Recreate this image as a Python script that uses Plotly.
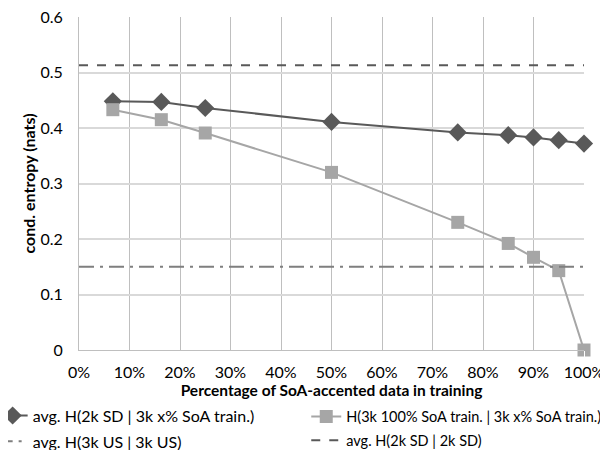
import plotly.graph_objects as go

pct = [6.7, 16.3, 25, 50, 75, 85, 90, 95, 100]
h_sd = [0.448, 0.447, 0.436, 0.411, 0.392, 0.387, 0.383, 0.378, 0.372]
h_soa = [0.433, 0.415, 0.391, 0.320, 0.230, 0.192, 0.167, 0.143, 0.0]
span = [0, 100]
h_us = 0.150
h_sd_sd = 0.513

names = ["avg. H(2k SD | 3k x% SoA train.)",
         "H(3k 100% SoA train. | 3k x% SoA train.)",
         "avg. H(3k US | 3k US)",
         "avg. H(2k SD | 2k SD)"]

FONT = "Lato"
fig = go.Figure()
fig.add_trace(go.Scatter(x=pct, y=h_sd, name=names[0], mode="lines+markers",
                         line=dict(color="#595959", width=2),
                         marker=dict(symbol="diamond", size=14, color="#595959"),
                         cliponaxis=False, legend="legend", legendgroup="a"))
fig.add_trace(go.Scatter(x=pct, y=h_soa, name=names[1], mode="lines+markers",
                         line=dict(color="#a6a6a6", width=2),
                         marker=dict(symbol="square", size=13, color="#a6a6a6"),
                         cliponaxis=False, legend="legend2", legendgroup="b"))
fig.add_trace(go.Scatter(x=span, y=[h_us] * 2, name=names[2], mode="lines",
                         line=dict(color="#7f7f7f", width=2, dash="longdashdot"),
                         legend="legend", legendgroup="c"))
fig.add_trace(go.Scatter(x=span, y=[h_sd_sd] * 2, name=names[3], mode="lines",
                         line=dict(color="#595959", width=2, dash="dash"),
                         legend="legend2", legendgroup="d"))

leg_common = dict(orientation="v", xref="paper", yref="container",
                  yanchor="top", xanchor="left",
                  tracegroupgap=2, itemwidth=30, bgcolor="rgba(0,0,0,0)")

fig.update_layout(
    width=608, height=450,
    margin=dict(l=71, r=32, t=9, b=108, autoexpand=False),
    paper_bgcolor="white", plot_bgcolor="white",
    font=dict(family=FONT, size=16, color="#000000"),
    xaxis=dict(range=[0, 100], tickvals=[0, 10, 20, 30, 40, 50, 60, 70, 80, 90, 100],
               ticktext=[f"{v}%" for v in range(0, 101, 10)],
               showgrid=True, gridcolor="#bfbfbf", gridwidth=1,
               showline=True, linecolor="#bfbfbf", mirror=False,
               zeroline=False, ticks="outside", ticklen=8, tickcolor="white",
               automargin=False, ticklabeloverflow="allow",
               title=dict(text="<b>Percentage of SoA-accented data in training</b>",
                          font=dict(size=15.5), standoff=20)),
    yaxis=dict(range=[0, 0.6], tickvals=[0, 0.1, 0.2, 0.3, 0.4, 0.5, 0.6],
               ticktext=["0", "0.1", "0.2", "0.3", "0.4", "0.5", "0.6"],
               showgrid=True, gridcolor="#d9d9d9", gridwidth=1.5,
               showline=True, linecolor="#bfbfbf", zeroline=False,
               ticks="outside", ticklen=12, tickcolor="white",
               automargin=False, ticklabeloverflow="allow",
               title=dict(text="<b>cond. entropy (nats)</b>", font=dict(size=16), standoff=0)),
    legend=dict(x=-0.171, y=0.132, font=dict(size=16), **leg_common),
    legend2=dict(x=0.45, y=0.1276, font=dict(size=14.5), **leg_common),
    showlegend=True,
)
fig.write_html("out.html")
